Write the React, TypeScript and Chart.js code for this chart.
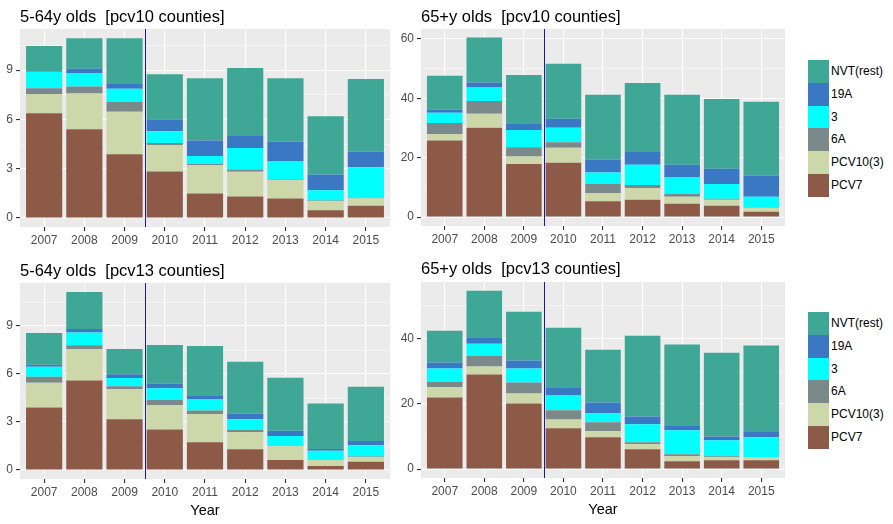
import React, { useEffect, useRef } from 'react';
import { Chart, registerables } from 'chart.js';

Chart.register(...registerables);

const FONT = "'Liberation Sans', Arial, sans-serif";

const years = ['2007', '2008', '2009', '2010', '2011', '2012', '2013', '2014', '2015'];
const seriesNames = ['PCV7', 'PCV10(3)', '6A', '3', '19A', 'NVT(rest)'];
const seriesColors = ['#8E5A48', '#CCD8AA', '#7A8A8A', '#00FFFF', '#3B78C3', '#3FA795'];

// 5-64y olds [pcv10 counties]
const a10_PCV7 = [6.37, 5.4, 3.87, 2.83, 1.49, 1.3, 1.18, 0.47, 0.75];
const a10_PCV10 = [1.17, 2.18, 2.59, 1.61, 1.73, 1.51, 1.12, 0.55, 0.43];
const a10_6A = [0.36, 0.42, 0.59, 0.12, 0.06, 0.14, 0.04, 0.04, 0.02];
const a10_3 = [1.0, 0.82, 0.81, 0.71, 0.49, 1.31, 1.1, 0.63, 1.88];
const a10_19A = [0.05, 0.26, 0.29, 0.73, 0.95, 0.77, 1.22, 0.96, 0.97];
const a10_NVT = [1.52, 1.86, 2.79, 2.74, 3.79, 4.09, 3.85, 3.54, 4.4];

// 65+y olds [pcv10 counties]
const e10_PCV7 = [25.8, 30.1, 17.9, 18.3, 5.3, 5.8, 4.5, 3.8, 1.8];
const e10_PCV10 = [2.2, 4.7, 2.5, 5.0, 2.8, 4.0, 2.35, 2.0, 1.35];
const e10_6A = [3.7, 4.3, 3.1, 1.9, 3.0, 1.0, 1.0, 0.35, 0.2];
const e10_3 = [3.4, 4.5, 5.85, 4.85, 3.9, 6.8, 5.5, 5.0, 3.5];
const e10_19A = [1.0, 1.7, 2.2, 3.05, 4.3, 4.3, 4.25, 5.1, 7.05];
const e10_NVT = [11.45, 15.1, 16.3, 18.5, 21.9, 23.2, 23.6, 23.5, 24.9];

// 5-64y olds [pcv13 counties]
const a13_PCV7 = [3.91, 5.59, 3.17, 2.54, 1.74, 1.3, 0.62, 0.25, 0.52];
const a13_PCV10 = [1.55, 1.98, 1.88, 1.52, 1.76, 1.06, 0.87, 0.37, 0.29];
const a13_6A = [0.37, 0.23, 0.18, 0.31, 0.22, 0.14, 0.02, 0.02, 0.04];
const a13_3 = [0.63, 0.79, 0.52, 0.74, 0.69, 0.67, 0.62, 0.56, 0.7];
const a13_19A = [0.12, 0.22, 0.23, 0.29, 0.27, 0.37, 0.33, 0.12, 0.27];
const a13_NVT = [1.99, 2.32, 1.59, 2.42, 3.08, 3.23, 3.31, 2.84, 3.39];

// 65+y olds [pcv13 counties]
const e13_PCV7 = [21.9, 28.9, 20.1, 12.5, 9.75, 6.1, 2.45, 2.75, 2.75];
const e13_PCV10 = [3.1, 2.5, 3.0, 2.7, 1.85, 1.5, 1.5, 0.9, 0.9];
const e13_6A = [1.7, 3.2, 3.4, 2.8, 2.7, 0.6, 0.6, 0.3, 0.1];
const e13_3 = [4.1, 3.7, 4.3, 4.5, 2.8, 5.5, 7.35, 4.85, 6.0];
const e13_19A = [1.8, 1.8, 2.4, 2.5, 3.3, 2.4, 1.5, 1.2, 1.85];
const e13_NVT = [9.7, 14.4, 14.9, 18.2, 16.1, 24.7, 24.7, 25.55, 26.2];

const ticksAdult = [0, 1.5, 3, 4.5, 6, 7.5, 9, 10.5];
const majorAdult = [0, 3, 6, 9];
const ticksElder = [0, 10, 20, 30, 40, 50, 60];
const majorElder = [0, 20, 40, 60];

type Panel = {
  title: string;
  values: number[][];
  yMin: number;
  yMax: number;
  ticks: number[];
  majors: number[];
  left: number;
  top: number;
  width: number;
  height: number;
  padTop: number;
  padRight: number;
  yWidth: number;
  xHeight: number;
  titleY: number;
  showXTitle: boolean;
};

const panels: Panel[] = [
  {
    title: '5-64y olds  [pcv10 counties]',
    values: [a10_PCV7, a10_PCV10, a10_6A, a10_3, a10_19A, a10_NVT],
    yMin: -0.55, yMax: 11.5, ticks: ticksAdult, majors: majorAdult,
    left: 0, top: 0, width: 393, height: 250,
    padTop: 29, padRight: 3, yWidth: 20, xHeight: 23, titleY: 22, showXTitle: false,
  },
  {
    title: '65+y olds  [pcv10 counties]',
    values: [e10_PCV7, e10_PCV10, e10_6A, e10_3, e10_19A, e10_NVT],
    yMin: -3.0, yMax: 63.3, ticks: ticksElder, majors: majorElder,
    left: 393, top: 0, width: 397, height: 250,
    padTop: 29, padRight: 5, yWidth: 28, xHeight: 24, titleY: 21.5, showXTitle: false,
  },
  {
    title: '5-64y olds  [pcv13 counties]',
    values: [a13_PCV7, a13_PCV10, a13_6A, a13_3, a13_19A, a13_NVT],
    yMin: -0.56, yMax: 11.69, ticks: ticksAdult, majors: majorAdult,
    left: 0, top: 250, width: 393, height: 274,
    padTop: 33, padRight: 3, yWidth: 20, xHeight: 45, titleY: 25.5, showXTitle: true,
  },
  {
    title: '65+y olds  [pcv13 counties]',
    values: [e13_PCV7, e13_PCV10, e13_6A, e13_3, e13_19A, e13_NVT],
    yMin: -2.7, yMax: 57.2, ticks: ticksElder, majors: majorElder,
    left: 393, top: 250, width: 397, height: 274,
    padTop: 32, padRight: 5, yWidth: 28, xHeight: 46, titleY: 24, showXTitle: true,
  },
];

function ChartPanel({ p }: { p: Panel }) {
  const ref = useRef<HTMLCanvasElement | null>(null);
  useEffect(() => {
    if (!ref.current) return;
    const decor = {
      id: 'decor',
      beforeDraw(chart: any) {
        const { ctx, chartArea: a } = chart;
        ctx.save();
        ctx.fillStyle = '#EBEBEB';
        ctx.fillRect(a.left, a.top, a.right - a.left, a.bottom - a.top);
        ctx.restore();
      },
      afterDatasetsDraw(chart: any) {
        const { ctx, chartArea: a } = chart;
        const xs = chart.scales.x;
        const vx = Math.round(xs.getPixelForValue(3.5)) + 0.5;
        ctx.save();
        ctx.strokeStyle = '#1A1A9A';
        ctx.lineWidth = 1;
        ctx.beginPath();
        ctx.moveTo(vx, a.top);
        ctx.lineTo(vx, a.bottom);
        ctx.stroke();
        ctx.restore();
      },
      afterDraw(chart: any) {
        const { ctx, chartArea: a } = chart;
        ctx.save();
        ctx.fillStyle = '#000000';
        ctx.font = `16.5px ${FONT}`;
        ctx.textAlign = 'left';
        ctx.textBaseline = 'alphabetic';
        ctx.fillText(p.title, a.left, p.titleY);
        if (p.showXTitle) {
          ctx.font = `14.5px ${FONT}`;
          ctx.textAlign = 'center';
          ctx.textBaseline = 'middle';
          ctx.fillText('Year', (a.left + a.right) / 2, a.bottom + 32);
        }
        ctx.restore();
      },
    };
    const chart = new Chart(ref.current, {
      type: 'bar',
      data: {
        datasets: seriesNames.map((name, i) => ({
          label: name,
          data: p.values[i].map((v, j) => ({ x: j + 1, y: v })),
          backgroundColor: seriesColors[i],
          borderWidth: 0,
          barPercentage: 0.9,
          categoryPercentage: 1,
        })),
      },
      options: {
        animation: false,
        responsive: false,
        devicePixelRatio: 1,
        layout: { padding: { top: p.padTop, right: p.padRight, left: 0, bottom: 0 }, autoPadding: false },
        plugins: { legend: { display: false }, tooltip: { enabled: false }, title: { display: false } },
        scales: {
          x: {
            type: 'linear',
            stacked: true,
            min: 0.4,
            max: 9.6,
            offset: false,
            afterBuildTicks: (s: any) => {
              s.ticks = years.map((_, i) => ({ value: i + 1 }));
            },
            afterFit: (s: any) => {
              s.height = p.xHeight;
            },
            ticks: {
              autoSkip: false,
              maxRotation: 0,
              padding: 2,
              color: '#4D4D4D',
              font: { family: FONT, size: 12 },
              callback: (v: any) => years[Number(v) - 1] ?? '',
            },
            grid: { offset: false, color: '#FFFFFF', lineWidth: 1.1, tickColor: '#333333', tickLength: 4, drawTicks: true },
            border: { display: false },
          },
          y: {
            type: 'linear',
            stacked: true,
            min: p.yMin,
            max: p.yMax,
            afterBuildTicks: (s: any) => {
              s.ticks = p.ticks.filter((t) => t <= p.yMax).map((t) => ({ value: t }));
            },
            afterFit: (s: any) => {
              s.width = p.yWidth;
            },
            ticks: {
              padding: 3,
              color: '#4D4D4D',
              font: { family: FONT, size: 12 },
              callback: (v: any) => (p.majors.includes(Number(v)) ? String(v) : ''),
            },
            grid: {
              offset: false,
              color: '#FFFFFF',
              lineWidth: (c: any) => (p.majors.includes(c.tick?.value) ? 1.1 : 0.5),
              tickColor: (c: any) => (p.majors.includes(c.tick?.value) ? '#333333' : 'rgba(0,0,0,0)'),
              tickLength: 4,
              drawTicks: true,
            },
            border: { display: false },
          },
        },
      } as any,
      plugins: [decor],
    });
    return () => chart.destroy();
  }, [p]);
  return (
    <canvas
      ref={ref}
      width={p.width}
      height={p.height}
      style={{ position: 'absolute', left: p.left, top: p.top, width: p.width, height: p.height }}
    />
  );
}

function Legend({ top }: { top: number }) {
  const order = [5, 4, 3, 2, 1, 0];
  const keyH = 22.8;
  return (
    <div style={{ position: 'absolute', left: 808, top, width: 85 }}>
      {order.map((i, k) => (
        <div key={seriesNames[i]} style={{ position: 'absolute', left: 0, top: k * keyH, height: keyH, width: 85 }}>
          <div style={{ position: 'absolute', left: 0, top: 0, width: 21, height: keyH, background: seriesColors[i] }} />
          <div
            style={{
              position: 'absolute',
              left: 23,
              top: 0,
              height: keyH,
              lineHeight: `${keyH}px`,
              fontFamily: FONT,
              fontSize: 12,
              color: '#000000',
              whiteSpace: 'nowrap',
            }}
          >
            {seriesNames[i]}
          </div>
        </div>
      ))}
    </div>
  );
}

export default function App() {
  return (
    <div style={{ position: 'absolute', left: 0, top: 0, width: 893, height: 524, background: '#FFFFFF', overflow: 'hidden' }}>
      {panels.map((p) => (
        <ChartPanel key={p.title} p={p} />
      ))}
      <Legend top={60} />
      <Legend top={312} />
    </div>
  );
}
